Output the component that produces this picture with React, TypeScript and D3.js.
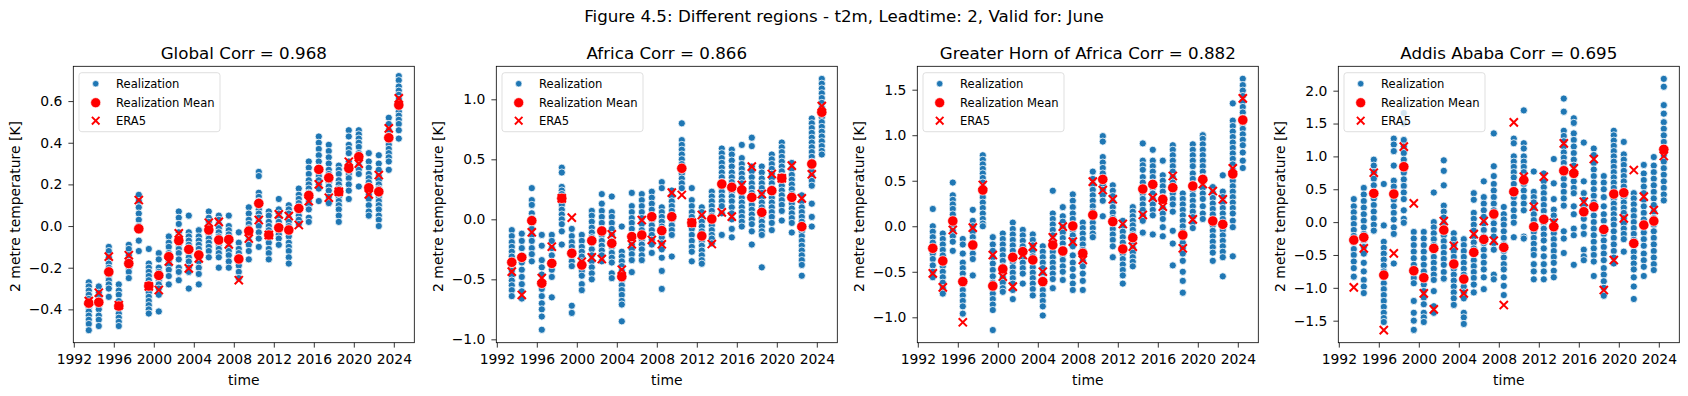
import React, { useEffect, useRef } from "react";
import * as d3 from "d3";

const years = [
  1993, 1994, 1995, 1996, 1997, 1998, 1999, 2000, 2001, 2002, 2003, 2004, 2005, 2006, 2007, 2008,
  2009, 2010, 2011, 2012, 2013, 2014, 2015, 2016, 2017, 2018, 2019, 2020, 2021, 2022, 2023, 2024,
];
const xTicks = [1992, 1996, 2000, 2004, 2008, 2012, 2016, 2020, 2024];
const legendLabels = ["Realization", "Realization Mean", "ERA5"];

// Global
const globalReal = [
  [-0.27, -0.29, -0.31, -0.33, -0.35, -0.37, -0.39, -0.41, -0.43, -0.45, -0.47, -0.5],
  [-0.29, -0.32, -0.34, -0.36, -0.38, -0.4, -0.43, -0.45, -0.48],
  [-0.1, -0.12, -0.15, -0.18, -0.2, -0.22, -0.24, -0.26, -0.28, -0.3, -0.34],
  [-0.28, -0.31, -0.33, -0.36, -0.38, -0.4, -0.42, -0.44, -0.46, -0.48],
  [-0.09, -0.11, -0.14, -0.16, -0.18, -0.2, -0.22, -0.25],
  [0.15, 0.12, 0.09, 0.06, 0.03, 0.0, -0.02, -0.07, -0.12],
  [-0.11, -0.18, -0.2, -0.22, -0.24, -0.26, -0.28, -0.3, -0.32, -0.34, -0.36, -0.38, -0.4, -0.42],
  [-0.13, -0.16, -0.2, -0.22, -0.24, -0.26, -0.28, -0.3, -0.33, -0.41],
  [-0.05, -0.08, -0.1, -0.13, -0.15, -0.17, -0.19, -0.21, -0.24, -0.28],
  [0.07, 0.04, 0.01, -0.03, -0.05, -0.07, -0.09, -0.11, -0.13, -0.16, -0.2, -0.22, -0.26],
  [0.05, -0.03, -0.05, -0.07, -0.09, -0.11, -0.13, -0.15, -0.17, -0.2, -0.22, -0.3],
  [-0.02, -0.05, -0.07, -0.09, -0.11, -0.13, -0.15, -0.17, -0.2, -0.23, -0.28],
  [0.07, 0.04, 0.02, 0.0, -0.02, -0.04, -0.06, -0.08, -0.1, -0.12, -0.15],
  [0.05, 0.03, 0.01, -0.01, -0.03, -0.05, -0.07, -0.09, -0.11, -0.13, -0.15, -0.2],
  [0.05, 0.0, -0.02, -0.04, -0.06, -0.08, -0.1, -0.12, -0.14, -0.17, -0.2],
  [-0.03, -0.08, -0.11, -0.13, -0.15, -0.17, -0.19, -0.22, -0.25],
  [0.09, 0.06, 0.03, 0.01, -0.01, -0.03, -0.05, -0.07, -0.09, -0.12, -0.16],
  [0.26, 0.24, 0.16, 0.14, 0.12, 0.1, 0.08, 0.06, 0.04, 0.02, 0.0, -0.03, -0.06, -0.1],
  [0.07, 0.05, 0.02, 0.0, -0.02, -0.04, -0.06, -0.08, -0.11, -0.13, -0.16],
  [0.13, 0.08, 0.06, 0.04, 0.02, 0.0, -0.02, -0.04, -0.06, -0.09],
  [0.1, 0.08, 0.06, 0.04, 0.02, 0.0, -0.02, -0.05, -0.08, -0.1, -0.12, -0.15, -0.18],
  [0.18, 0.15, 0.13, 0.11, 0.09, 0.07, 0.05, 0.03, 0.01],
  [0.31, 0.28, 0.25, 0.22, 0.2, 0.18, 0.16, 0.14, 0.12, 0.1, 0.08, 0.04, 0.02],
  [0.43, 0.4, 0.37, 0.34, 0.31, 0.28, 0.26, 0.24, 0.22, 0.2, 0.18, 0.12],
  [0.39, 0.36, 0.33, 0.3, 0.27, 0.25, 0.23, 0.21, 0.19, 0.17, 0.14, 0.11],
  [0.29, 0.27, 0.25, 0.22, 0.2, 0.18, 0.16, 0.14, 0.12, 0.1, 0.08, 0.05, 0.02],
  [0.46, 0.43, 0.39, 0.37, 0.35, 0.31, 0.29, 0.27, 0.25, 0.23, 0.2, 0.17, 0.13],
  [0.46, 0.44, 0.42, 0.4, 0.38, 0.35, 0.33, 0.31, 0.29, 0.27, 0.25, 0.19],
  [0.35, 0.31, 0.28, 0.25, 0.23, 0.21, 0.19, 0.17, 0.15, 0.13, 0.1, 0.07, 0.05],
  [0.34, 0.3, 0.27, 0.24, 0.22, 0.2, 0.18, 0.16, 0.14, 0.12, 0.1, 0.08, 0.05, 0.03, 0.0],
  [0.52, 0.49, 0.46, 0.43, 0.41, 0.39, 0.37, 0.35, 0.33, 0.31, 0.27],
  [0.72, 0.7, 0.67, 0.65, 0.63, 0.61, 0.59, 0.57, 0.55, 0.53, 0.51, 0.49, 0.46, 0.42],
];
const globalMean = [
  -0.37, -0.366, -0.22, -0.384, -0.18, -0.013, -0.288, -0.237, -0.147, -0.07, -0.112, -0.139,
  -0.019, -0.067, -0.064, -0.158, -0.024, 0.109, -0.043, -0.008, -0.019, 0.085, 0.147, 0.272,
  0.232, 0.165, 0.277, 0.333, 0.184, 0.165, 0.424, 0.581,
];
const globalEra5 = [
  -0.36, -0.32, -0.147, -0.38, -0.14, 0.125, -0.29, -0.307, -0.17, -0.035, -0.203, -0.155, 0.016,
  0.02, -0.088, -0.26, -0.06, 0.029, -0.043, 0.056, 0.048, 0.005, 0.12, 0.2, 0.136, 0.165, 0.309,
  0.3, 0.152, 0.245, 0.469, 0.613,
];

// Africa
const africaReal = [
  [-0.09, -0.14, -0.19, -0.23, -0.27, -0.31, -0.35, -0.39, -0.43, -0.47, -0.51, -0.55, -0.59, -0.64],
  [-0.12, -0.18, -0.24, -0.3, -0.36, -0.42, -0.48, -0.54, -0.6, -0.66],
  [0.26, 0.16, 0.12, 0.05, 0.01, -0.03, -0.08, -0.13, -0.18, -0.24, -0.29, -0.35],
  [-0.13, -0.22, -0.34, -0.4, -0.46, -0.52, -0.58, -0.64, -0.7, -0.75, -0.81, -0.92],
  [-0.13, -0.18, -0.24, -0.3, -0.36, -0.42, -0.48, -0.65],
  [0.43, 0.39, 0.27, 0.24, 0.21, 0.18, 0.15, 0.12, 0.08, 0.04, 0.0, -0.04, -0.1, -0.21],
  [-0.08, -0.14, -0.19, -0.23, -0.27, -0.31, -0.35, -0.39, -0.72, -0.78],
  [-0.13, -0.18, -0.23, -0.27, -0.31, -0.35, -0.39, -0.43, -0.47, -0.54, -0.59],
  [0.07, 0.03, -0.02, -0.07, -0.11, -0.15, -0.2, -0.25, -0.3, -0.35, -0.4, -0.45, -0.5],
  [0.21, 0.13, 0.07, 0.02, -0.03, -0.08, -0.13, -0.18, -0.22, -0.26, -0.3, -0.35],
  [0.19, 0.06, 0.02, -0.03, -0.08, -0.13, -0.18, -0.23, -0.28, -0.32, -0.36, -0.45, -0.49],
  [-0.06, -0.27, -0.31, -0.35, -0.39, -0.43, -0.47, -0.51, -0.55, -0.59, -0.63, -0.68, -0.71, -0.85],
  [0.22, 0.11, 0.06, 0.01, -0.03, -0.08, -0.13, -0.17, -0.21, -0.25, -0.29, -0.34, -0.44],
  [0.21, 0.16, 0.11, 0.06, 0.01, -0.04, -0.09, -0.13, -0.17, -0.21, -0.25, -0.3, -0.34],
  [0.23, 0.18, 0.13, 0.08, 0.03, -0.01, -0.05, -0.09, -0.13, -0.17, -0.21, -0.28],
  [0.31, 0.26, 0.1, 0.06, 0.02, -0.02, -0.06, -0.1, -0.15, -0.2, -0.25, -0.32, -0.43, -0.58],
  [0.24, 0.19, 0.15, 0.11, 0.07, 0.03, -0.01, -0.05, -0.09, -0.13, -0.31],
  [0.8, 0.66, 0.62, 0.58, 0.54, 0.5, 0.46, 0.42, 0.38, 0.34, 0.3, 0.26],
  [0.26, 0.16, 0.11, 0.06, 0.02, -0.03, -0.08, -0.13, -0.18, -0.23, -0.27, -0.35],
  [0.1, 0.06, 0.02, -0.02, -0.06, -0.1, -0.14, -0.18, -0.22, -0.26, -0.3, -0.34, -0.37],
  [0.23, 0.19, 0.15, 0.11, 0.07, 0.03, -0.01, -0.05, -0.09, -0.13, -0.16, -0.2],
  [0.59, 0.55, 0.51, 0.47, 0.43, 0.39, 0.35, 0.31, 0.27, 0.23, 0.19, 0.15, 0.11, 0.05, -0.13],
  [0.58, 0.54, 0.49, 0.44, 0.39, 0.35, 0.31, 0.27, 0.23, 0.19, 0.15, 0.1, 0.05, 0.0, -0.08, -0.15],
  [0.62, 0.51, 0.46, 0.42, 0.38, 0.34, 0.3, 0.26, 0.22, 0.18, 0.14, 0.1, 0.06, 0.02, -0.02, -0.06],
  [0.68, 0.61, 0.44, 0.4, 0.35, 0.3, 0.26, 0.22, 0.17, 0.12, 0.08, 0.04, 0.0, -0.04, -0.1, -0.21],
  [0.44, 0.39, 0.34, 0.3, 0.26, 0.22, 0.18, 0.14, 0.1, 0.06, 0.02, -0.02, -0.06, -0.1, -0.13, -0.4],
  [0.54, 0.5, 0.46, 0.42, 0.38, 0.34, 0.3, 0.26, 0.22, 0.18, 0.14, 0.1, 0.06, 0.02, -0.03, -0.09],
  [0.64, 0.6, 0.56, 0.52, 0.48, 0.44, 0.4, 0.36, 0.32, 0.28, 0.24, 0.2, 0.16, 0.12, 0.07, -0.01],
  [0.47, 0.42, 0.37, 0.33, 0.29, 0.25, 0.21, 0.17, 0.13, 0.09, 0.05, 0.01, -0.03, -0.11],
  [0.2, 0.15, 0.1, 0.06, 0.02, -0.02, -0.06, -0.1, -0.14, -0.18, -0.22, -0.26, -0.3, -0.34, -0.38, -0.47],
  [0.84, 0.8, 0.76, 0.72, 0.68, 0.64, 0.6, 0.56, 0.52, 0.48, 0.44, 0.4, 0.36, 0.32, 0.28, 0.13, 0.02, -0.06],
  [1.17, 1.13, 1.09, 1.05, 1.01, 0.97, 0.93, 0.89, 0.85, 0.81, 0.77, 0.73, 0.69, 0.65, 0.61, 0.57, 0.54],
];
const africaMean = [
  -0.358, -0.317, -0.011, -0.533, -0.367, 0.175, -0.283, -0.381, -0.178, -0.097, -0.2, -0.478,
  -0.144, -0.131, 0.022, -0.094, 0.022, 0.425, -0.028, -0.139, 0.003, 0.294, 0.267, 0.244, 0.183,
  0.058, 0.239, 0.342, 0.183, -0.061, 0.461, 0.892,
];
const africaEra5 = [
  -0.436, -0.63, -0.108, -0.49, -0.228, 0.175, 0.014, -0.353, -0.317, -0.331, -0.125, -0.42,
  -0.208, -0.006, -0.172, -0.208, 0.222, 0.203, -0.028, 0.036, -0.206, 0.058, 0.022, 0.286, 0.439,
  0.211, 0.378, 0.342, 0.447, 0.175, 0.375, 0.944,
];

// Greater Horn of Africa
const ghaReal = [
  [0.19, 0.0, -0.06, -0.12, -0.18, -0.24, -0.3, -0.36, -0.43, -0.5, -0.56],
  [-0.08, -0.14, -0.2, -0.26, -0.32, -0.38, -0.44, -0.5, -0.56, -0.62, -0.68, -0.74],
  [0.48, 0.34, 0.29, 0.24, 0.19, 0.13, 0.07, 0.01, -0.05, -0.11, -0.17, -0.27],
  [-0.14, -0.2, -0.3, -0.4, -0.46, -0.52, -0.58, -0.64, -0.7, -0.76, -0.82, -0.88, -0.96],
  [0.18, 0.06, 0.0, -0.06, -0.12, -0.18, -0.24, -0.3, -0.36, -0.54],
  [0.78, 0.73, 0.68, 0.63, 0.58, 0.53, 0.48, 0.43, 0.38, 0.32, 0.26, 0.2, 0.14, 0.08, 0.03, 0.0],
  [-0.12, -0.2, -0.27, -0.34, -0.41, -0.48, -0.55, -0.62, -0.68, -0.74, -0.8, -0.86, -0.92, -1.14],
  [-0.08, -0.14, -0.2, -0.26, -0.32, -0.38, -0.44, -0.5, -0.56, -0.62, -0.68, -0.72],
  [0.04, -0.03, -0.09, -0.15, -0.21, -0.27, -0.33, -0.39, -0.45, -0.51, -0.57, -0.63, -0.7, -0.8],
  [-0.04, -0.1, -0.16, -0.22, -0.28, -0.34, -0.4, -0.46, -0.52, -0.63],
  [-0.09, -0.15, -0.21, -0.27, -0.33, -0.39, -0.45, -0.51, -0.57, -0.63, -0.69, -0.76],
  [-0.22, -0.28, -0.34, -0.4, -0.46, -0.52, -0.58, -0.64, -0.7, -0.76, -0.82, -0.88, -0.98],
  [0.39, 0.14, 0.08, 0.02, -0.04, -0.1, -0.16, -0.22, -0.28, -0.34, -0.4, -0.46, -0.52, -0.58, -0.68],
  [0.21, 0.11, 0.05, -0.01, -0.07, -0.13, -0.19, -0.25, -0.31, -0.37, -0.44, -0.5, -0.59],
  [0.35, 0.28, 0.21, 0.14, 0.08, 0.02, -0.04, -0.1, -0.16, -0.22, -0.32, -0.4, -0.47, -0.55, -0.63, -0.7],
  [0.04, -0.02, -0.08, -0.14, -0.2, -0.26, -0.32, -0.38, -0.44, -0.52, -0.6, -0.7],
  [0.6, 0.52, 0.46, 0.4, 0.34, 0.28, 0.22, 0.16, 0.1, 0.04, -0.02, -0.08, -0.12],
  [0.99, 0.93, 0.76, 0.7, 0.64, 0.58, 0.52, 0.46, 0.4, 0.34, 0.28, 0.11],
  [0.45, 0.39, 0.33, 0.27, 0.21, 0.15, 0.09, 0.03, -0.03, -0.09, -0.15, -0.22, -0.34],
  [0.06, 0.0, -0.06, -0.12, -0.18, -0.24, -0.3, -0.36, -0.42, -0.48, -0.54, -0.63],
  [0.21, 0.16, 0.11, 0.06, 0.01, -0.04, -0.09, -0.14, -0.19, -0.24, -0.29, -0.34, -0.39, -0.44],
  [0.91, 0.72, 0.67, 0.62, 0.54, 0.48, 0.42, 0.36, 0.3, 0.24, 0.18, 0.12, 0.06, -0.07],
  [0.84, 0.72, 0.66, 0.6, 0.54, 0.48, 0.42, 0.36, 0.3, 0.24, 0.18, 0.12, -0.09],
  [0.72, 0.56, 0.5, 0.44, 0.38, 0.32, 0.26, 0.2, 0.14, 0.08, -0.01, -0.11],
  [0.89, 0.84, 0.78, 0.72, 0.66, 0.6, 0.54, 0.48, 0.42, 0.36, 0.3, 0.24, 0.16, -0.05, -0.19, -0.43],
  [0.36, 0.3, 0.24, 0.18, 0.12, 0.06, 0.0, -0.06, -0.12, -0.18, -0.24, -0.3, -0.38, -0.5, -0.6, -0.73],
  [0.9, 0.84, 0.78, 0.72, 0.66, 0.58, 0.52, 0.46, 0.4, 0.34, 0.28, 0.22, 0.16, 0.1, 0.04, -0.02],
  [1.0, 0.96, 0.9, 0.84, 0.78, 0.72, 0.66, 0.6, 0.54, 0.48, 0.42, 0.36, 0.3, 0.22, 0.14, 0.08],
  [0.43, 0.37, 0.31, 0.25, 0.19, 0.13, 0.07, 0.01, -0.05, -0.11, -0.17, -0.23, -0.29, -0.38],
  [0.56, 0.38, 0.32, 0.26, 0.2, 0.14, 0.08, 0.02, -0.04, -0.1, -0.16, -0.22, -0.28, -0.34, -0.55],
  [1.35, 1.16, 1.1, 1.04, 0.98, 0.92, 0.86, 0.8, 0.74, 0.68, 0.62, 0.56, 0.5, 0.44, 0.38, 0.32, 0.26, 0.2, 0.14, 0.06, -0.01, -0.33],
  [1.62, 1.55, 1.49, 1.43, 1.37, 1.31, 1.25, 1.19, 1.13, 1.07, 1.01, 0.95, 0.89, 0.81, 0.72, 0.64],
];
const ghaMean = [
  -0.242, -0.381, 0.058, -0.608, -0.206, 0.398, -0.656, -0.469, -0.341, -0.279, -0.37, -0.608,
  -0.206, -0.272, 0.003, -0.297, 0.124, 0.515, 0.051, -0.25, -0.125, 0.409, 0.46, 0.296, 0.424,
  -0.096, 0.442, 0.515, 0.058, 0.021, 0.574, 1.167,
];
const ghaEra5 = [
  -0.517, -0.671, -0.041, -1.055, -0.015, 0.453, -0.316, -0.553, -0.663, -0.316, -0.224, -0.499,
  -0.122, -0.004, -0.169, -0.37, 0.49, 0.398, 0.296, 0.025, -0.224, 0.124, 0.314, 0.215, 0.552,
  -0.242, 0.076, 0.464, 0.387, 0.296, 0.636, 1.405,
];

// Addis Ababa
const addisReal = [
  [0.35, 0.24, 0.15, 0.06, -0.03, -0.12, -0.21, -0.31, -0.41, -0.5, -0.6, -0.7, -0.83],
  [0.52, 0.42, 0.32, 0.22, 0.12, 0.02, -0.08, -0.18, -0.28, -0.38, -0.48, -0.62, -0.75, -0.88, -0.98, -1.08],
  [0.95, 0.86, 0.76, 0.66, 0.56, 0.46, 0.36, 0.26, 0.16, 0.06, -0.04, -0.13],
  [0.58, -0.05, -0.3, -0.39, -0.48, -0.57, -0.66, -0.75, -0.84, -0.93, -1.02, -1.11, -1.2, -1.29, -1.38, -1.46, -1.52],
  [1.27, 1.18, 1.08, 0.86, 0.63, 0.54, 0.44, 0.34, 0.24, 0.14, 0.04, -0.08, -0.18, -0.63],
  [1.66, 1.5, 1.25, 1.15, 1.05, 0.95, 0.85, 0.75, 0.65, 0.55, 0.45, 0.35, 0.18, 0.05, -0.01],
  [-0.15, -0.25, -0.35, -0.45, -0.55, -0.65, -0.75, -0.85, -0.93, -1.2, -1.38, -1.5, -1.64],
  [-0.15, -0.25, -0.35, -0.45, -0.55, -0.65, -0.75, -0.85, -0.95, -1.05, -1.15, -1.25, -1.38, -1.45, -1.52],
  [0.45, 0.0, -0.08, -0.17, -0.26, -0.35, -0.44, -0.53, -0.62, -0.71, -0.8, -0.88, -1.05, -1.28, -1.38],
  [0.94, 0.78, 0.56, 0.25, 0.16, 0.07, -0.02, -0.11, -0.2, -0.29, -0.38, -0.47, -0.56, -0.65, -0.76, -0.86],
  [-0.17, -0.26, -0.35, -0.44, -0.53, -0.62, -0.71, -0.8, -0.89, -0.98, -1.07, -1.16, -1.26],
  [-0.26, -0.35, -0.44, -0.53, -0.62, -0.71, -0.8, -0.89, -0.98, -1.07, -1.16, -1.38, -1.45, -1.55],
  [0.44, 0.34, 0.14, 0.05, -0.04, -0.13, -0.22, -0.31, -0.4, -0.49, -0.58, -0.67, -0.76, -0.85, -0.95, -1.07],
  [0.62, 0.38, 0.28, 0.18, 0.08, -0.02, -0.12, -0.22, -0.32, -0.42, -0.52, -0.62, -0.72, -0.84, -1.02],
  [1.35, 0.85, 0.7, 0.58, 0.48, 0.38, 0.28, 0.18, 0.08, -0.02, -0.12, -0.22, -0.32, -0.42, -0.8, -0.87],
  [0.23, 0.12, 0.04, -0.04, -0.14, -0.24, -0.34, -0.44, -0.54, -0.64, -0.72, -0.84, -0.97, -1.11],
  [1.27, 1.2, 1.0, 0.92, 0.84, 0.76, 0.68, 0.58, 0.48, 0.38, 0.28, 0.18, 0.08, -0.01, -0.23],
  [1.7, 1.2, 1.12, 1.0, 0.92, 0.84, 0.76, 0.68, 0.58, 0.48, 0.38, 0.28, 0.18, -0.22, -0.25],
  [0.77, 0.46, 0.38, 0.3, 0.21, 0.12, 0.03, -0.06, -0.15, -0.24, -0.33, -0.42, -0.5, -0.64, -0.75, -0.87],
  [0.74, 0.62, 0.53, 0.44, 0.35, 0.26, 0.17, 0.08, -0.01, -0.1, -0.19, -0.28, -0.4, -0.52, -0.64, -0.75, -0.87],
  [0.96, 0.59, 0.35, 0.19, 0.1, 0.01, -0.08, -0.17, -0.26, -0.35, -0.44, -0.53, -0.62, -0.74, -0.84],
  [1.88, 1.68, 1.39, 1.31, 1.23, 1.15, 1.06, 0.98, 0.9, 0.82, 0.74, 0.66, 0.56, 0.46, 0.36, 0.25, -0.14, -0.25, -0.47],
  [1.58, 1.51, 1.35, 1.25, 1.15, 1.05, 0.95, 0.86, 0.78, 0.7, 0.62, 0.52, 0.44, 0.24, 0.12, -0.1, -0.2, -0.65],
  [1.21, 0.62, 0.44, 0.34, 0.24, 0.14, 0.05, -0.07, -0.18, -0.42, -0.52, -0.58],
  [1.12, 1.02, 0.9, 0.8, 0.7, 0.6, 0.5, 0.4, 0.3, 0.2, 0.1, 0.0, -0.1, -0.2, -0.3, -0.4, -0.5, -0.6, -0.82],
  [0.7, 0.6, 0.5, 0.38, 0.24, 0.12, 0.02, -0.08, -0.18, -0.28, -0.38, -0.48, -0.58, -0.7, -0.8, -0.9, -1.0, -1.12],
  [1.39, 1.32, 1.24, 1.16, 1.08, 1.0, 0.92, 0.84, 0.76, 0.68, 0.6, 0.52, 0.44, 0.36, 0.28, 0.2, 0.12, 0.04, -0.04, -0.14, -0.24, -0.34, -0.44, -0.54, -0.63],
  [1.22, 1.03, 0.95, 0.87, 0.78, 0.7, 0.62, 0.54, 0.46, 0.38, 0.3, 0.22, 0.14, 0.06, -0.02, -0.1, -0.18, -0.26, -0.45],
  [0.44, 0.36, 0.27, 0.18, 0.09, 0.0, -0.09, -0.18, -0.27, -0.36, -0.45, -0.54, -0.63, -0.72, -0.84, -0.98, -1.17],
  [0.87, 0.74, 0.64, 0.54, 0.44, 0.34, 0.24, 0.14, 0.04, -0.06, -0.16, -0.26, -0.36, -0.48, -0.58, -0.68, -0.82],
  [0.99, 0.86, 0.76, 0.66, 0.56, 0.46, 0.36, 0.26, 0.16, 0.06, -0.04, -0.14, -0.24, -0.34, -0.44, -0.54, -0.64, -0.73],
  [2.18, 2.06, 1.78, 1.65, 1.52, 1.42, 1.32, 1.22, 1.12, 1.02, 0.92, 0.82, 0.72, 0.62, 0.52, 0.42, 0.33],
];
const addisMean = [
  -0.273, -0.232, 0.437, -0.806, 0.427, 0.843, -0.74, -0.846, -0.4, -0.121, -0.638, -0.867, -0.461,
  -0.263, 0.123, -0.385, 0.463, 0.64, -0.07, 0.042, -0.07, 0.782, 0.742, 0.158, 0.234, -0.111,
  0.427, 0.447, -0.324, -0.045, 0.016, 1.107,
];
const addisEra5 = [
  -0.993, -0.4, 0.752, -1.643, -0.476, 1.148, 0.285, -1.085, -1.328, 0.016, -0.359, -1.085,
  -0.182, 0.016, -0.283, -1.262, 1.518, 0.691, 0.234, 0.691, -0.009, 1.198, 0.818, 0.31, 0.96,
  -1.034, -0.577, 0.057, 0.792, 0.387, 0.184, 1.006,
];

const titles = [
  "Global Corr = 0.968",
  "Africa Corr = 0.866",
  "Greater Horn of Africa Corr = 0.882",
  "Addis Ababa Corr = 0.695",
];
const yTicks = [
  [-0.4, -0.2, 0, 0.2, 0.4, 0.6],
  [-1.0, -0.5, 0, 0.5, 1.0],
  [-1.0, -0.5, 0, 0.5, 1.0, 1.5],
  [-1.5, -1.0, -0.5, 0, 0.5, 1.0, 1.5, 2.0],
];
const yDomains = [
  [-0.56, 0.767],
  [-1.028, 1.275],
  [-1.279, 1.757],
  [-1.835, 2.371],
];

const panels = [
  { real: globalReal, mean: globalMean, era5: globalEra5 },
  { real: africaReal, mean: africaMean, era5: africaEra5 },
  { real: ghaReal, mean: ghaMean, era5: ghaEra5 },
  { real: addisReal, mean: addisMean, era5: addisEra5 },
];

const W = 1688;
const H = 396;
const axLefts = [73.3, 496.3, 917.3, 1338.3];
const axTop = 66.3;
const axW = 341;
const axH = 276.4;
const FONT = "DejaVu Sans, sans-serif";
const BLUE = "#1f77b4";

export default function App() {
  const svgRef = useRef(null);

  useEffect(() => {
    const svg = d3.select(svgRef.current);
    svg.selectAll("*").remove();

    svg
      .append("text")
      .attr("x", W / 2)
      .attr("y", 22)
      .attr("text-anchor", "middle")
      .attr("font-family", FONT)
      .attr("font-size", 16.7)
      .text("Figure 4.5: Different regions - t2m, Leadtime: 2, Valid for: June");

    const x = d3.scaleLinear().domain([1991.95, 2026.05]).range([0, axW]);

    panels.forEach((p, i) => {
      const y = d3.scaleLinear().domain(yDomains[i]).range([axH, 0]);
      const g = svg.append("g").attr("transform", `translate(${axLefts[i]},${axTop})`);

      // realizations
      const pts = p.real.flatMap((vals, j) => vals.map((v) => ({ t: years[j] + 0.5, v })));
      g.append("g")
        .selectAll("circle")
        .data(pts)
        .join("circle")
        .attr("cx", (d) => x(d.t))
        .attr("cy", (d) => y(d.v))
        .attr("r", 3.6)
        .attr("fill", BLUE)
        .attr("stroke", "white")
        .attr("stroke-width", 0.8);

      // realization mean
      g.append("g")
        .selectAll("circle")
        .data(p.mean)
        .join("circle")
        .attr("cx", (d, j) => x(years[j] + 0.5))
        .attr("cy", (d) => y(d))
        .attr("r", 5.2)
        .attr("fill", "red")
        .attr("stroke", "white")
        .attr("stroke-width", 0.7);

      // ERA5 crosses
      const cs = 4.1;
      g.append("g")
        .selectAll("path")
        .data(p.era5)
        .join("path")
        .attr("transform", (d, j) => `translate(${x(years[j] + 0.5)},${y(d)})`)
        .attr("d", `M${-cs},${-cs}L${cs},${cs}M${-cs},${cs}L${cs},${-cs}`)
        .attr("stroke", "red")
        .attr("stroke-width", 2)
        .attr("fill", "none");

      // axes
      const xa = g
        .append("g")
        .attr("transform", `translate(0,${axH})`)
        .call(
          d3.axisBottom(x).tickValues(xTicks).tickFormat(d3.format("d")).tickSize(4.9).tickPadding(6.5)
        );
      const ya = g
        .append("g")
        .call(d3.axisLeft(y).tickValues(yTicks[i]).tickFormat(d3.format(".1f")).tickSize(4.9).tickPadding(6));
      [xa, ya].forEach((a) => {
        a.attr("font-family", FONT).attr("font-size", 13.9);
        a.select(".domain").remove();
        a.selectAll("line").attr("stroke", "black").attr("stroke-width", 0.8);
        a.selectAll("text").attr("fill", "black");
      });

      g.append("rect")
        .attr("width", axW)
        .attr("height", axH)
        .attr("fill", "none")
        .attr("stroke", "black")
        .attr("stroke-width", 0.8);

      g.append("text")
        .attr("x", axW / 2)
        .attr("y", -7.8)
        .attr("text-anchor", "middle")
        .attr("font-family", FONT)
        .attr("font-size", 16.7)
        .text(titles[i]);

      g.append("text")
        .attr("x", axW / 2)
        .attr("y", axH + 42)
        .attr("text-anchor", "middle")
        .attr("font-family", FONT)
        .attr("font-size", 13.9)
        .text("time");

      g.append("text")
        .attr("transform", `translate(-58.5,${axH / 2 + 2}) rotate(-90)`)
        .attr("text-anchor", "middle")
        .attr("dominant-baseline", "central")
        .attr("font-family", FONT)
        .attr("font-size", 13.9)
        .text("2 metre temperature [K]");

      // legend
      const lg = g.append("g").attr("transform", "translate(5.7,6.4)");
      lg.append("rect")
        .attr("width", 141)
        .attr("height", 59)
        .attr("rx", 2.8)
        .attr("fill", "white")
        .attr("fill-opacity", 0.8)
        .attr("stroke", "#cccccc")
        .attr("stroke-opacity", 0.8)
        .attr("stroke-width", 0.8);
      const rowY = [11, 30, 48];
      lg.append("circle").attr("cx", 16.7).attr("cy", rowY[0]).attr("r", 3.2).attr("fill", BLUE).attr("stroke", "white").attr("stroke-width", 0.6);
      lg.append("circle").attr("cx", 16.7).attr("cy", rowY[1]).attr("r", 5).attr("fill", "red").attr("stroke", "white").attr("stroke-width", 0.6);
      lg.append("path")
        .attr("transform", `translate(16.7,${rowY[2]})`)
        .attr("d", "M-3.8,-3.8L3.8,3.8M-3.8,3.8L3.8,-3.8")
        .attr("stroke", "red")
        .attr("stroke-width", 1.9);
      lg.selectAll("text.lbl")
        .data(legendLabels)
        .join("text")
        .attr("class", "lbl")
        .attr("x", 37)
        .attr("y", (d, k) => rowY[k])
        .attr("dy", "0.36em")
        .attr("font-family", FONT)
        .attr("font-size", 11.57)
        .text((d) => d);
    });
  }, []);

  return (
    <div style={{ position: "absolute", left: 0, top: 0, background: "white" }}>
      <svg ref={svgRef} width={W} height={H}></svg>
    </div>
  );
}
